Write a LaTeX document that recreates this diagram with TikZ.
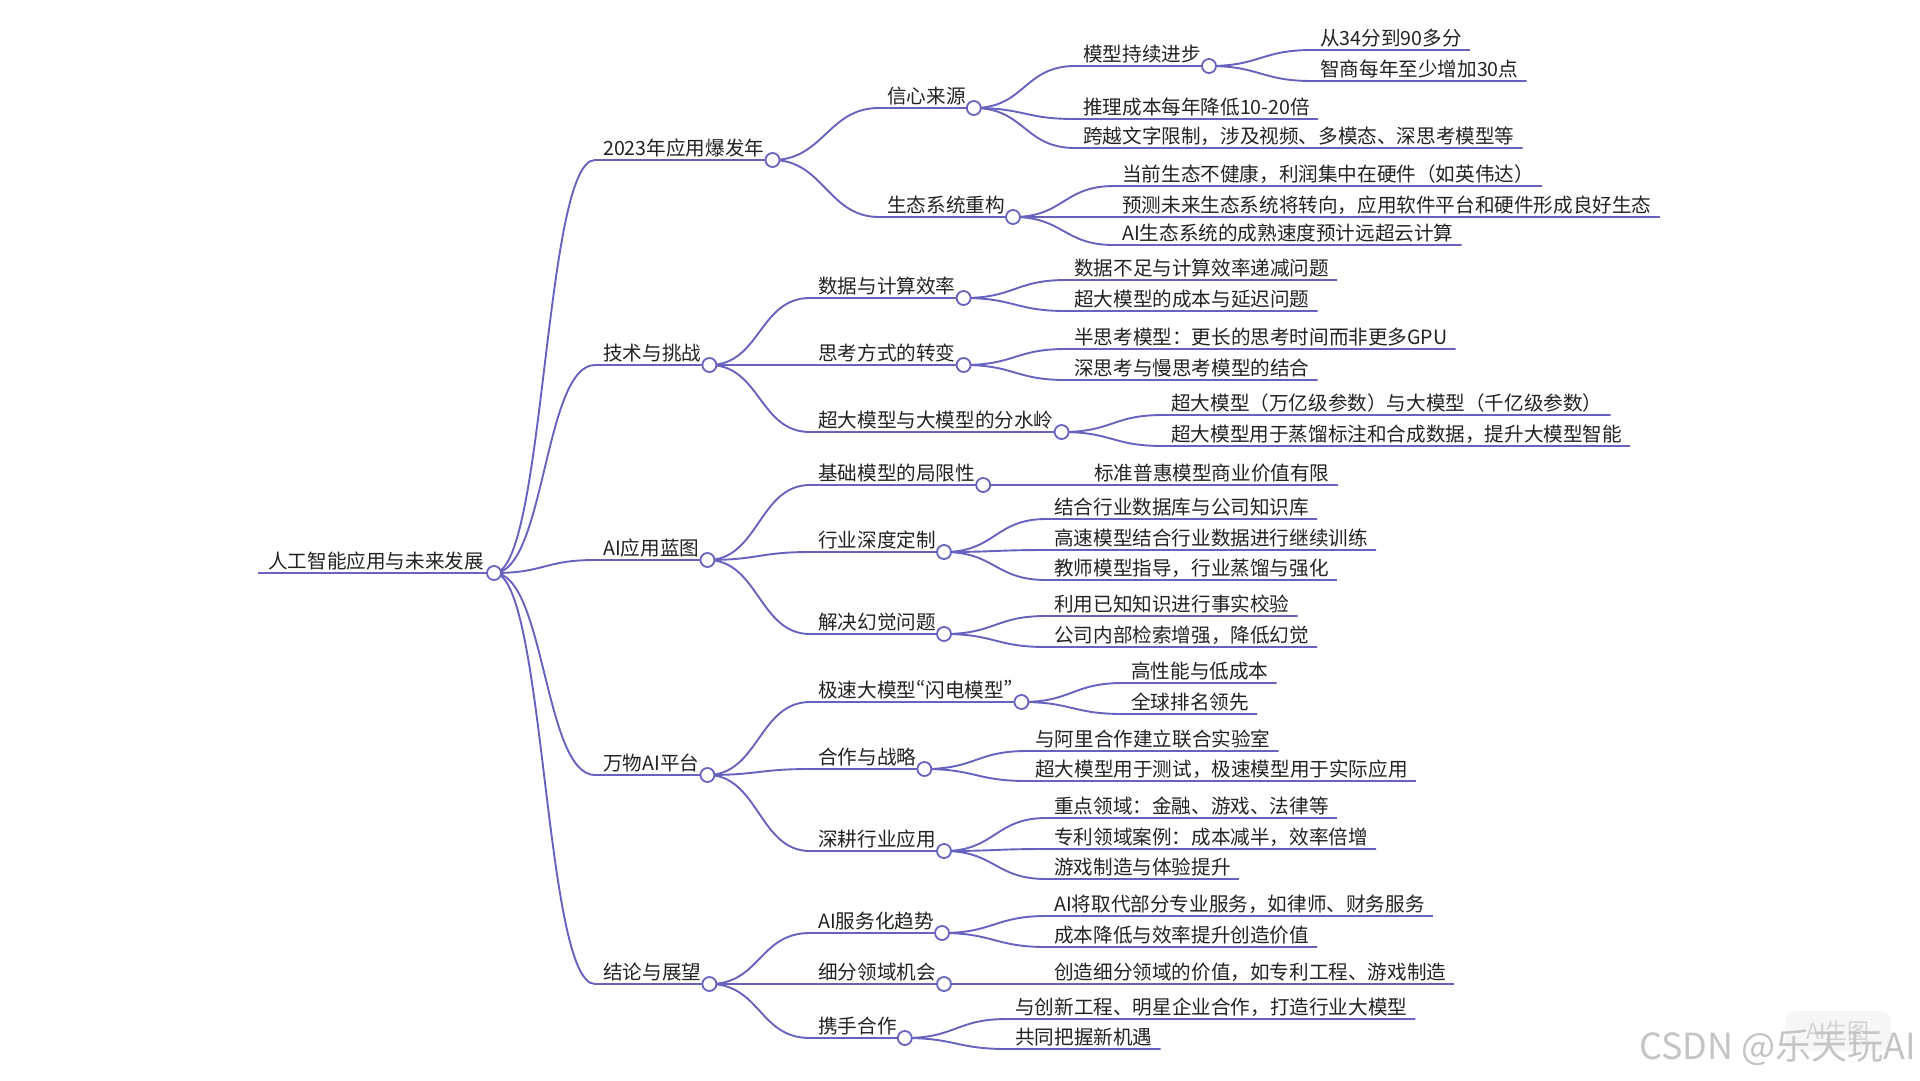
\documentclass[tikz,border=0pt]{standalone}
\usepackage{fontspec}
\setmainfont{Noto Sans CJK SC}
\usepackage{tikz}
\usetikzlibrary{backgrounds}
\definecolor{branch}{HTML}{6662BE}
\definecolor{ink}{HTML}{222222}
\definecolor{wmgray}{HTML}{C4C4C4}
\newcommand{\narrowq}[1]{{\addfontfeature{CharacterWidth=Proportional}#1}}
\tikzset{
  topic/.style={
    anchor=south west, inner xsep=8pt, inner ysep=1pt,
    text height=15pt, text depth=3pt, text=ink,
    font=\fontsize{19.6}{24}\selectfont,
  },
  roottopic/.style={topic, inner xsep=10pt},
  dot/.style={circle, draw=branch, fill=white, line width=1.8pt, minimum size=14pt, inner sep=0pt},
  link/.style={draw=branch, line width=1.9pt, out=0, in=180, distance=51pt},
  badge/.style={rectangle, rounded corners=10pt, fill=gray!7, text=gray!35,
    minimum width=106pt, minimum height=40pt, font=\fontsize{22}{26}\selectfont},
  wmark/.style={text=wmgray, font=\fontsize{36}{40}\selectfont, inner sep=0pt},
}

\begin{document}
\begin{tikzpicture}[x=1pt,y=-1pt]
  \useasboundingbox (0,0) rectangle (1920,1080);
  % root and main branches
  \node[roottopic] (root) at (258,573) {人工智能应用与未来发展};
  \node[topic] (boom) at (595,160) {2023年应用爆发年};
  \node[topic] (tech) at (595,365) {技术与挑战};
  \node[topic] (blueprint) at (595,560) {AI应用蓝图};
  \node[topic] (platform) at (595,775) {万物AI平台};
  \node[topic] (outlook) at (595,984) {结论与展望};
  % second level
  \node[topic] (faith) at (879,108) {信心来源};
  \node[topic] (eco) at (879,217) {生态系统重构};
  \node[topic] (datacomp) at (810,298) {数据与计算效率};
  \node[topic] (thinking) at (810,365) {思考方式的转变};
  \node[topic] (watershed) at (810,432) {超大模型与大模型的分水岭};
  \node[topic] (basemodel) at (810,485) {基础模型的局限性};
  \node[topic] (custom) at (810,552) {行业深度定制};
  \node[topic] (halluc) at (810,634) {解决幻觉问题};
  \node[topic] (flash) at (810,702) {极速大模型\narrowq{“}闪电模型\narrowq{”}};
  \node[topic] (partner) at (810,769) {合作与战略};
  \node[topic] (industry) at (810,851) {深耕行业应用};
  \node[topic] (service) at (810,933) {AI服务化趋势};
  \node[topic] (niche) at (810,984) {细分领域机会};
  \node[topic] (together) at (810,1038) {携手合作};
  % third and fourth level
  \node[topic] (progress) at (1075,66) {模型持续进步};
  \node[topic] (progA) at (1312,50) {从34分到90多分};
  \node[topic] (progB) at (1312,81) {智商每年至少增加30点};
  \node[topic] (cost) at (1075,119) {推理成本每年降低10-20倍};
  \node[topic] (modal) at (1075,148) {跨越文字限制，涉及视频、多模态、深思考模型等};
  \node[topic] (ecoA) at (1114,186) {当前生态不健康，利润集中在硬件（如英伟达）};
  \node[topic] (ecoB) at (1114,217) {预测未来生态系统将转向，应用软件平台和硬件形成良好生态};
  \node[topic] (ecoC) at (1114,245) {AI生态系统的成熟速度预计远超云计算};
  \node[topic] (dataA) at (1066,280) {数据不足与计算效率递减问题};
  \node[topic] (dataB) at (1066,311) {超大模型的成本与延迟问题};
  \node[topic] (thinkA) at (1066,349) {半思考模型：更长的思考时间而非更多GPU};
  \node[topic] (thinkB) at (1066,380) {深思考与慢思考模型的结合};
  \node[topic] (waterA) at (1163,415) {超大模型（万亿级参数）与大模型（千亿级参数）};
  \node[topic] (waterB) at (1163,446) {超大模型用于蒸馏标注和合成数据，提升大模型智能};
  \node[topic] (baseA) at (1086,485) {标准普惠模型商业价值有限};
  \node[topic] (customA) at (1046,519) {结合行业数据库与公司知识库};
  \node[topic] (customB) at (1046,550) {高速模型结合行业数据进行继续训练};
  \node[topic] (customC) at (1046,580) {教师模型指导，行业蒸馏与强化};
  \node[topic] (hallA) at (1046,616) {利用已知知识进行事实校验};
  \node[topic] (hallB) at (1046,647) {公司内部检索增强，降低幻觉};
  \node[topic] (flashA) at (1123,683) {高性能与低成本};
  \node[topic] (flashB) at (1123,714) {全球排名领先};
  \node[topic] (partA) at (1027,751) {与阿里合作建立联合实验室};
  \node[topic] (partB) at (1027,781) {超大模型用于测试，极速模型用于实际应用};
  \node[topic] (indA) at (1046,818) {重点领域：金融、游戏、法律等};
  \node[topic] (indB) at (1046,849) {专利领域案例：成本减半，效率倍增};
  \node[topic] (indC) at (1046,879) {游戏制造与体验提升};
  \node[topic] (servA) at (1046,916) {AI将取代部分专业服务，如律师、财务服务};
  \node[topic] (servB) at (1046,947) {成本降低与效率提升创造价值};
  \node[topic] (nicheA) at (1046,984) {创造细分领域的价值，如专利工程、游戏制造};
  \node[topic] (togA) at (1007,1019) {与创新工程、明星企业合作，打造行业大模型};
  \node[topic] (togB) at (1007,1049) {共同把握新机遇};
  % knots at the end of each branch line
  \node[dot] (droot) at (root.south east) {};
  \node[dot] (dboom) at (boom.south east) {};
  \node[dot] (dtech) at (tech.south east) {};
  \node[dot] (dblueprint) at (blueprint.south east) {};
  \node[dot] (dplatform) at (platform.south east) {};
  \node[dot] (doutlook) at (outlook.south east) {};
  \node[dot] (dfaith) at (faith.south east) {};
  \node[dot] (deco) at (eco.south east) {};
  \node[dot] (ddatacomp) at (datacomp.south east) {};
  \node[dot] (dthinking) at (thinking.south east) {};
  \node[dot] (dwatershed) at (watershed.south east) {};
  \node[dot] (dbasemodel) at (basemodel.south east) {};
  \node[dot] (dcustom) at (custom.south east) {};
  \node[dot] (dhalluc) at (halluc.south east) {};
  \node[dot] (dflash) at (flash.south east) {};
  \node[dot] (dpartner) at (partner.south east) {};
  \node[dot] (dindustry) at (industry.south east) {};
  \node[dot] (dservice) at (service.south east) {};
  \node[dot] (dniche) at (niche.south east) {};
  \node[dot] (dtogether) at (together.south east) {};
  \node[dot] (dprogress) at (progress.south east) {};
  % watermark
  \node[badge] (aibadge) at (1838,1031) {AI生图};
  \node[wmark,anchor=south east] (csdn) at (1916,1066) {CSDN @乐天玩AI};
  \begin{scope}[on background layer]
    \draw[link] (root.south west) -- (root.south east);
    \draw[link] (droot.center) to (boom.south west) -- (boom.south east);
    \draw[link] (droot.center) to (tech.south west) -- (tech.south east);
    \draw[link] (droot.center) to (blueprint.south west) -- (blueprint.south east);
    \draw[link] (droot.center) to (platform.south west) -- (platform.south east);
    \draw[link] (droot.center) to (outlook.south west) -- (outlook.south east);
    \draw[link] (dboom.center) to (faith.south west) -- (faith.south east);
    \draw[link] (dboom.center) to (eco.south west) -- (eco.south east);
    \draw[link] (dtech.center) to (datacomp.south west) -- (datacomp.south east);
    \draw[link] (dtech.center) to (thinking.south west) -- (thinking.south east);
    \draw[link] (dtech.center) to (watershed.south west) -- (watershed.south east);
    \draw[link] (dblueprint.center) to (basemodel.south west) -- (basemodel.south east);
    \draw[link] (dblueprint.center) to (custom.south west) -- (custom.south east);
    \draw[link] (dblueprint.center) to (halluc.south west) -- (halluc.south east);
    \draw[link] (dplatform.center) to (flash.south west) -- (flash.south east);
    \draw[link] (dplatform.center) to (partner.south west) -- (partner.south east);
    \draw[link] (dplatform.center) to (industry.south west) -- (industry.south east);
    \draw[link] (doutlook.center) to (service.south west) -- (service.south east);
    \draw[link] (doutlook.center) to (niche.south west) -- (niche.south east);
    \draw[link] (doutlook.center) to (together.south west) -- (together.south east);
    \draw[link] (dfaith.center) to (progress.south west) -- (progress.south east);
    \draw[link] (dprogress.center) to (progA.south west) -- (progA.south east);
    \draw[link] (dprogress.center) to (progB.south west) -- (progB.south east);
    \draw[link] (dfaith.center) to (cost.south west) -- (cost.south east);
    \draw[link] (dfaith.center) to (modal.south west) -- (modal.south east);
    \draw[link] (deco.center) to (ecoA.south west) -- (ecoA.south east);
    \draw[link] (deco.center) to (ecoB.south west) -- (ecoB.south east);
    \draw[link] (deco.center) to (ecoC.south west) -- (ecoC.south east);
    \draw[link] (ddatacomp.center) to (dataA.south west) -- (dataA.south east);
    \draw[link] (ddatacomp.center) to (dataB.south west) -- (dataB.south east);
    \draw[link] (dthinking.center) to (thinkA.south west) -- (thinkA.south east);
    \draw[link] (dthinking.center) to (thinkB.south west) -- (thinkB.south east);
    \draw[link] (dwatershed.center) to (waterA.south west) -- (waterA.south east);
    \draw[link] (dwatershed.center) to (waterB.south west) -- (waterB.south east);
    \draw[link] (dbasemodel.center) to (baseA.south west) -- (baseA.south east);
    \draw[link] (dcustom.center) to (customA.south west) -- (customA.south east);
    \draw[link] (dcustom.center) to (customB.south west) -- (customB.south east);
    \draw[link] (dcustom.center) to (customC.south west) -- (customC.south east);
    \draw[link] (dhalluc.center) to (hallA.south west) -- (hallA.south east);
    \draw[link] (dhalluc.center) to (hallB.south west) -- (hallB.south east);
    \draw[link] (dflash.center) to (flashA.south west) -- (flashA.south east);
    \draw[link] (dflash.center) to (flashB.south west) -- (flashB.south east);
    \draw[link] (dpartner.center) to (partA.south west) -- (partA.south east);
    \draw[link] (dpartner.center) to (partB.south west) -- (partB.south east);
    \draw[link] (dindustry.center) to (indA.south west) -- (indA.south east);
    \draw[link] (dindustry.center) to (indB.south west) -- (indB.south east);
    \draw[link] (dindustry.center) to (indC.south west) -- (indC.south east);
    \draw[link] (dservice.center) to (servA.south west) -- (servA.south east);
    \draw[link] (dservice.center) to (servB.south west) -- (servB.south east);
    \draw[link] (dniche.center) to (nicheA.south west) -- (nicheA.south east);
    \draw[link] (dtogether.center) to (togA.south west) -- (togA.south east);
    \draw[link] (dtogether.center) to (togB.south west) -- (togB.south east);
  \end{scope}
\end{tikzpicture}
\end{document}
